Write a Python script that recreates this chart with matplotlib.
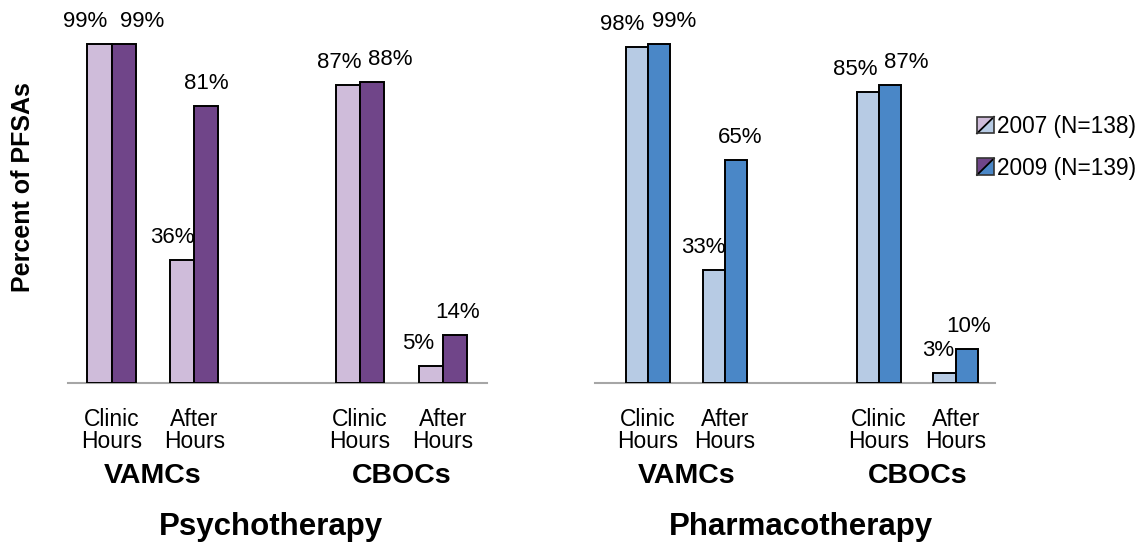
import numpy as np
import matplotlib
matplotlib.use("Agg")
import matplotlib.pyplot as plt
from matplotlib.patches import Polygon, Rectangle
from matplotlib.lines import Line2D

# ===== data =====
categories = ["Clinic\nHours", "After\nHours", "Clinic\nHours", "After\nHours"]
groups = ["VAMCs", "CBOCs"]
panel_titles = ["Psychotherapy", "Pharmacotherapy"]
series_labels = ["2007 (N=138)", "2009 (N=139)"]

psy_2007 = [99, 36, 87, 5]
psy_2009 = [99, 81, 88, 14]
pharm_2007 = [98, 33, 85, 3]
pharm_2009 = [99, 65, 87, 10]
# =================

plt.rcParams['font.family'] = ['Liberation Sans', 'DejaVu Sans']

purple = ['#CFBCDA', '#704589']
blue = ['#B7CBE4', '#4A87C7']

fig = plt.figure(figsize=(11.39, 5.46), dpi=100)
W, H = 1139, 546
ax1 = fig.add_axes([68 / W, 1 - 383 / H, 419 / W, 342.4 / H])
ax2 = fig.add_axes([595 / W, 1 - 383 / H, 400 / W, 342.4 / H])

x = np.array([0, 1, 3, 4])
width = 0.29

# label nudges (pixels) so neighbouring labels don't collide
dx_left = [[-14, -10, -9, -13], [19, 0, 18, 2]]
dx_right = [[-15, -10, -12, -6], [15, 4, 16, 2]]


def draw_panel(ax, v07, v09, colors, dxs, title, xlim, title_x):
    b1 = ax.bar(x - width / 2, v07, width, color=colors[0],
                edgecolor='black', linewidth=1.4, zorder=3)
    b2 = ax.bar(x + width / 2, v09, width, color=colors[1],
                edgecolor='black', linewidth=1.4, zorder=3)
    for bars, vals, dx in zip([b1, b2], [v07, v09], dxs):
        for bar, v, d in zip(bars, vals, dx):
            ax.annotate(f'{v}%', xy=(bar.get_x() + bar.get_width() / 2, v),
                        xytext=(d, 12), textcoords='offset pixels',
                        ha='center', va='bottom', fontsize=16)
    ax.set_xlim(*xlim)
    ax.set_ylim(0, 100)
    for s in ['top', 'right', 'left']:
        ax.spines[s].set_visible(False)
    ax.spines['bottom'].set_color('#A6A6A6')
    ax.spines['bottom'].set_linewidth(1.5)
    ax.set_yticks([])
    ax.set_xticks(x)
    ax.set_xticklabels(categories, fontsize=16.5, linespacing=0.95)
    ax.tick_params(axis='x', length=0, pad=18)
    # group labels
    trans = ax.get_xaxis_transform()
    for i, g in enumerate(groups):
        gx = x[2 * i:2 * i + 2].mean()
        ax.text(gx, -0.272, g, transform=trans, ha='center', va='center',
                fontsize=20.5, fontweight='bold')
    ax.text(title_x, -0.42, title, transform=ax.transAxes, ha='center',
            va='center', fontsize=22.5, fontweight='bold')


draw_panel(ax1, psy_2007, psy_2009, purple, dx_left, panel_titles[0],
           (-0.525, 4.53), 0.485)
draw_panel(ax2, pharm_2007, pharm_2009, blue, dx_right, panel_titles[1],
           (-0.69, 4.51), 0.515)

fig.text(23 / W, 1 - 187 / H, 'Percent of PFSAs', rotation=90,
         ha='center', va='center', fontsize=18, fontweight='bold')


# legend: split squares (purple / blue)
class SplitHandler:
    def __init__(self, c1, c2):
        self.c1, self.c2 = c1, c2

    def legend_artist(self, legend, orig_handle, fontsize, handlebox):
        x0, y0 = -handlebox.xdescent, -handlebox.ydescent
        w, h = handlebox.width, handlebox.height
        t = handlebox.get_transform()
        p1 = Polygon([[x0, y0], [x0, y0 + h], [x0 + w, y0 + h]],
                     closed=True, fc=self.c1, ec='none', transform=t)
        p2 = Polygon([[x0, y0], [x0 + w, y0], [x0 + w, y0 + h]],
                     closed=True, fc=self.c2, ec='none', transform=t)
        ln = Line2D([x0, x0 + w], [y0, y0 + h], color='black', lw=1.3,
                    transform=t)
        r = Rectangle((x0, y0), w, h, fc='none', ec='#333333', lw=1.2,
                      transform=t)
        for a in (p1, p2, ln, r):
            handlebox.add_artist(a)
        return r


h07, h09 = object(), object()
fig.legend([h07, h09], series_labels,
           handler_map={h07: SplitHandler(purple[0], blue[0]),
                        h09: SplitHandler(purple[1], blue[1])},
           loc='upper left', bbox_to_anchor=(977 / W, 1 - 115 / H),
           frameon=False, fontsize=16.3, handlelength=0.75, handleheight=0.75,
           handletextpad=0.12, labelspacing=0.82, borderpad=0,
           borderaxespad=0)

plt.savefig('out.png', dpi=100)
